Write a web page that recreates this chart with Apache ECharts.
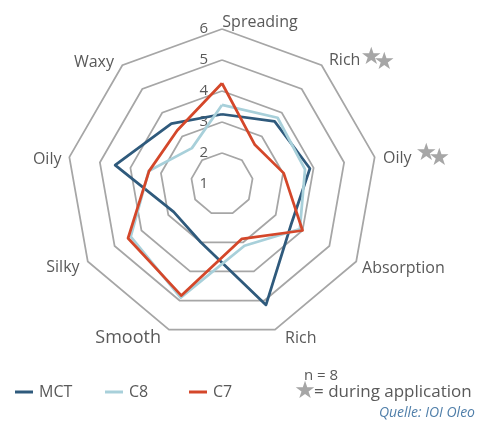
<!DOCTYPE html>
<html><head><meta charset="utf-8">
<script src="https://cdn.jsdelivr.net/npm/echarts@6/dist/echarts.min.js"></script>
<style>html,body{margin:0;padding:0;background:#fff}#c{width:489px;height:427px}</style>
</head><body><div id="c"></div>
<script>
// axes clockwise from top
const axisNames = ['Spreading','Rich','Oily','Absorption','Rich','Smooth','Silky','Oily','Waxy'];
const axisStarred = [false,true,true,false,false,false,false,false,false];
const mctValues = [3.25,3.64,3.88,3.58,5.15,3.0,2.8,4.5,3.54];
const c8Values  = [3.55,3.79,3.72,3.9,3.12,4.9,4.4,3.4,2.51];
const c7Values  = [4.25,2.65,3.02,4.0,2.88,4.83,4.5,3.39,3.25];
const seriesNames = ['MCT','C8','C7'];
const scaleMin = 1, scaleMax = 6, scaleStep = 1;

const colors = ['#2F5A7C','#A8D0DA','#D4472A'];
const grey = '#595959';
const starGrey = '#A6A6A6';
const font = 'Open Sans';

// label nudges (style only), clockwise index
const labelStyle = [
  {padding:[0,0,0,76], lineHeight:2},
  {padding:[0,0,0,3.5]},
  {padding:[5,0,0,2.5]},
  {padding:[7,0,0,0.6]},
  {padding:[6,0,0,8]},
  {padding:[5,6,0,0], fontSize:18},
  {padding:[5,3,0,0]},
  {padding:[6,2,0,0]},
  {padding:[3,4.5,0,0]}
];
const starGap = [0,0,4,0,0,0,0,0,0];

// ECharts radar goes counter-clockwise; reorder to clockwise layout
const order = [0,8,7,6,5,4,3,2,1];
const pick = arr => order.map(i => arr[i]);

const rich = {};
labelStyle.forEach((s, i) => {
  rich['a' + i] = Object.assign({color: grey, fontSize: 16, fontFamily: font}, s);
  rich['s' + i] = {fontFamily: 'DejaVu Sans', fontSize: 24, color: starGrey, width: 13, padding: [0,0,5,starGap[i]]};
});
rich.s2b = {fontFamily: 'DejaVu Sans', fontSize: 24, color: starGrey, padding: [5,0,0,0]};

const chart = echarts.init(document.getElementById('c'));
chart.setOption({
  animation: false,
  textStyle: {fontFamily: font},
  radar: {
    center: [222, 184],
    radius: 155,
    startAngle: 90,
    shape: 'polygon',
    splitNumber: 5,
    indicator: order.map(i => ({name: axisNames[i], min: scaleMin, max: scaleMax, _i: i})),
    axisName: {
      color: grey, fontSize: 16, fontFamily: font,
      formatter: (name, ind) => {
        const i = ind._i;
        let s = '{a' + i + '|' + name + '}';
        if (axisStarred[i]) s += '{s' + i + '|★}{s2b|★}';
        return s;
      },
      rich: rich
    },
    nameGap: 6,
    axisLine: {show: false},
    axisTick: {show: false},
    axisLabel: {show: false},
    splitArea: {show: false},
    splitLine: {lineStyle: {color: '#A6A6A6', width: 1.75}}
  },
  polar: {center: [222, 184], radius: 155},
  angleAxis: {type: 'value', min: 0, max: 360, startAngle: 90, show: false},
  radiusAxis: {
    type: 'value', min: scaleMin, max: scaleMax, interval: scaleStep,
    axisLine: {show: false}, axisTick: {show: false}, splitLine: {show: false},
    axisLabel: {color: grey, fontSize: 15, fontFamily: font, margin: 14, padding: [6,0,0,0]}
  },
  legend: seriesNames.map((n, i) => ({
    data: [n], left: [15, 105, 189][i], top: 384, padding: 0,
    icon: 'rect', itemWidth: 18, itemHeight: 3, itemGap: 0,
    textStyle: {color: grey, fontSize: 16, fontFamily: font, padding: [0,0,0,1]}
  })),
  series: [{
    type: 'radar',
    symbol: 'none',
    data: [mctValues, c8Values, c7Values].map((v, i) => ({
      name: seriesNames[i], value: pick(v),
      lineStyle: {color: colors[i], width: 2.75}, itemStyle: {color: colors[i]}
    }))
  }],
  graphic: [
    {type: 'text', x: 304, y: 376, style: {text: 'n = 8', fill: grey, font: '15px "Open Sans"', verticalAlign: 'middle'}},
    {type: 'text', x: 305, y: 392, style: {text: '★', fill: starGrey, font: '24px "DejaVu Sans"', align: 'center', verticalAlign: 'middle'}},
    {type: 'text', x: 314, y: 392, style: {text: '= during application', fill: grey, font: '17px "Open Sans"', verticalAlign: 'middle'}},
    {type: 'text', x: 475, y: 413, style: {text: 'Quelle: IOI Oleo', fill: '#4F7EA9', font: 'italic 14px "Open Sans"', align: 'right', verticalAlign: 'middle'}}
  ]
});
</script></body></html>
